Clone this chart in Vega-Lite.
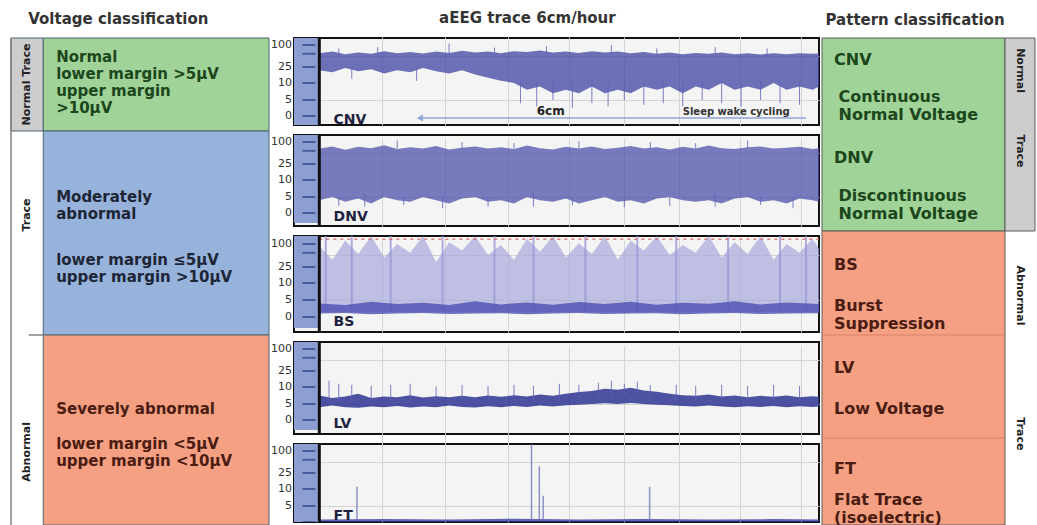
{
  "$schema": "https://vega.github.io/schema/vega-lite/v6.json",
  "background": "white",
  "padding": {"left": 10, "top": 10, "right": 0, "bottom": 0},
  "spacing": 0,
  "config": {
    "view": {"stroke": null},
    "concat": {"spacing": 0},
    "title": {"font": "DejaVu Sans", "fontSize": 15, "fontWeight": "bold", "color": "#333333", "offset": 10},
    "text": {"font": "DejaVu Sans"},
    "axis": {"labelFont": "DejaVu Sans"}
  },
  "datasets": {
    "traces": [
      {"p":"CNV","t":0,"lo":22,"hi":62},{"p":"CNV","t":2,"lo":20,"hi":70},{"p":"CNV","t":4,"lo":24,"hi":58},{"p":"CNV","t":6,"lo":21,"hi":66},{"p":"CNV","t":8,"lo":23,"hi":60},{"p":"CNV","t":10,"lo":19,"hi":72},{"p":"CNV","t":12,"lo":22,"hi":63},{"p":"CNV","t":14,"lo":20,"hi":68},{"p":"CNV","t":16,"lo":24,"hi":61},{"p":"CNV","t":18,"lo":21,"hi":70},{"p":"CNV","t":20,"lo":19,"hi":64},{"p":"CNV","t":22,"lo":22,"hi":74},{"p":"CNV","t":24,"lo":18,"hi":66},{"p":"CNV","t":26,"lo":15,"hi":70},{"p":"CNV","t":28,"lo":12,"hi":63},{"p":"CNV","t":30,"lo":10,"hi":72},{"p":"CNV","t":32,"lo":8,"hi":68},{"p":"CNV","t":34,"lo":9,"hi":75},{"p":"CNV","t":36,"lo":7,"hi":66},{"p":"CNV","t":38,"lo":8,"hi":70},{"p":"CNV","t":40,"lo":7,"hi":64},{"p":"CNV","t":42,"lo":9,"hi":72},{"p":"CNV","t":44,"lo":7,"hi":66},{"p":"CNV","t":46,"lo":8,"hi":70},{"p":"CNV","t":48,"lo":7,"hi":62},{"p":"CNV","t":50,"lo":9,"hi":68},{"p":"CNV","t":52,"lo":8,"hi":60},{"p":"CNV","t":54,"lo":9,"hi":66},{"p":"CNV","t":56,"lo":7,"hi":58},{"p":"CNV","t":58,"lo":9,"hi":64},{"p":"CNV","t":60,"lo":8,"hi":60},{"p":"CNV","t":62,"lo":10,"hi":66},{"p":"CNV","t":64,"lo":8,"hi":58},{"p":"CNV","t":66,"lo":9,"hi":62},{"p":"CNV","t":68,"lo":8,"hi":57},{"p":"CNV","t":70,"lo":10,"hi":63},{"p":"CNV","t":72,"lo":8,"hi":58},{"p":"CNV","t":74,"lo":9,"hi":62},{"p":"CNV","t":76,"lo":8,"hi":60},{"p":"CNV","t":77,"lo":9,"hi":61},
      {"p":"DNV","t":0,"lo":4,"hi":70},{"p":"DNV","t":2,"lo":5,"hi":80},{"p":"DNV","t":4,"lo":3.5,"hi":65},{"p":"DNV","t":6,"lo":4.5,"hi":78},{"p":"DNV","t":8,"lo":3,"hi":72},{"p":"DNV","t":10,"lo":5,"hi":85},{"p":"DNV","t":12,"lo":4,"hi":68},{"p":"DNV","t":14,"lo":3.5,"hi":76},{"p":"DNV","t":16,"lo":5,"hi":70},{"p":"DNV","t":18,"lo":4,"hi":82},{"p":"DNV","t":20,"lo":3,"hi":66},{"p":"DNV","t":22,"lo":4.5,"hi":74},{"p":"DNV","t":24,"lo":5,"hi":80},{"p":"DNV","t":26,"lo":3.5,"hi":70},{"p":"DNV","t":28,"lo":4,"hi":76},{"p":"DNV","t":30,"lo":3,"hi":68},{"p":"DNV","t":32,"lo":5,"hi":84},{"p":"DNV","t":34,"lo":4,"hi":72},{"p":"DNV","t":36,"lo":3.5,"hi":66},{"p":"DNV","t":38,"lo":4.5,"hi":78},{"p":"DNV","t":40,"lo":3,"hi":70},{"p":"DNV","t":42,"lo":4,"hi":80},{"p":"DNV","t":44,"lo":5,"hi":68},{"p":"DNV","t":46,"lo":3.5,"hi":74},{"p":"DNV","t":48,"lo":4,"hi":82},{"p":"DNV","t":50,"lo":3,"hi":70},{"p":"DNV","t":52,"lo":4.5,"hi":76},{"p":"DNV","t":54,"lo":5,"hi":66},{"p":"DNV","t":56,"lo":4,"hi":78},{"p":"DNV","t":58,"lo":3.5,"hi":70},{"p":"DNV","t":60,"lo":4,"hi":84},{"p":"DNV","t":62,"lo":3,"hi":72},{"p":"DNV","t":64,"lo":4.5,"hi":68},{"p":"DNV","t":66,"lo":5,"hi":76},{"p":"DNV","t":68,"lo":3.5,"hi":80},{"p":"DNV","t":70,"lo":4,"hi":70},{"p":"DNV","t":72,"lo":3,"hi":74},{"p":"DNV","t":74,"lo":4.5,"hi":78},{"p":"DNV","t":76,"lo":4,"hi":68},{"p":"DNV","t":77,"lo":3.5,"hi":72},
      {"p":"BS","t":0,"lo":1.5,"hi":90},{"p":"BS","t":2,"lo":1.5,"hi":40},{"p":"BS","t":4,"lo":1.5,"hi":120},{"p":"BS","t":6,"lo":1.5,"hi":55},{"p":"BS","t":8,"lo":1.5,"hi":146},{"p":"BS","t":10,"lo":1.5,"hi":45},{"p":"BS","t":12,"lo":1.5,"hi":100},{"p":"BS","t":14,"lo":1.5,"hi":60},{"p":"BS","t":16,"lo":1.5,"hi":146},{"p":"BS","t":18,"lo":1.5,"hi":35},{"p":"BS","t":20,"lo":1.5,"hi":110},{"p":"BS","t":22,"lo":1.5,"hi":70},{"p":"BS","t":24,"lo":1.5,"hi":146},{"p":"BS","t":26,"lo":1.5,"hi":50},{"p":"BS","t":28,"lo":1.5,"hi":95},{"p":"BS","t":30,"lo":1.5,"hi":40},{"p":"BS","t":32,"lo":1.5,"hi":130},{"p":"BS","t":34,"lo":1.5,"hi":65},{"p":"BS","t":36,"lo":1.5,"hi":146},{"p":"BS","t":38,"lo":1.5,"hi":45},{"p":"BS","t":40,"lo":1.5,"hi":105},{"p":"BS","t":42,"lo":1.5,"hi":55},{"p":"BS","t":44,"lo":1.5,"hi":146},{"p":"BS","t":46,"lo":1.5,"hi":40},{"p":"BS","t":48,"lo":1.5,"hi":120},{"p":"BS","t":50,"lo":1.5,"hi":70},{"p":"BS","t":52,"lo":1.5,"hi":146},{"p":"BS","t":54,"lo":1.5,"hi":50},{"p":"BS","t":56,"lo":1.5,"hi":95},{"p":"BS","t":58,"lo":1.5,"hi":60},{"p":"BS","t":60,"lo":1.5,"hi":146},{"p":"BS","t":62,"lo":1.5,"hi":45},{"p":"BS","t":64,"lo":1.5,"hi":110},{"p":"BS","t":66,"lo":1.5,"hi":55},{"p":"BS","t":68,"lo":1.5,"hi":146},{"p":"BS","t":70,"lo":1.5,"hi":40},{"p":"BS","t":72,"lo":1.5,"hi":100},{"p":"BS","t":74,"lo":1.5,"hi":60},{"p":"BS","t":76,"lo":1.5,"hi":130},{"p":"BS","t":77,"lo":1.5,"hi":80},
      {"p":"BSc","t":0,"lo":1,"hi":4},{"p":"BSc","t":4,"lo":1.2,"hi":3.5},{"p":"BSc","t":8,"lo":0.8,"hi":4.5},{"p":"BSc","t":12,"lo":1,"hi":3.8},{"p":"BSc","t":16,"lo":1.2,"hi":4.2},{"p":"BSc","t":20,"lo":0.9,"hi":3.5},{"p":"BSc","t":24,"lo":1,"hi":4.6},{"p":"BSc","t":28,"lo":1.1,"hi":3.7},{"p":"BSc","t":32,"lo":0.8,"hi":4.3},{"p":"BSc","t":36,"lo":1,"hi":3.6},{"p":"BSc","t":40,"lo":1.2,"hi":4.4},{"p":"BSc","t":44,"lo":0.9,"hi":3.8},{"p":"BSc","t":48,"lo":1,"hi":4.5},{"p":"BSc","t":52,"lo":1.1,"hi":3.6},{"p":"BSc","t":56,"lo":0.8,"hi":4.2},{"p":"BSc","t":60,"lo":1,"hi":3.9},{"p":"BSc","t":64,"lo":1.2,"hi":4.6},{"p":"BSc","t":68,"lo":0.9,"hi":3.7},{"p":"BSc","t":72,"lo":1,"hi":4.3},{"p":"BSc","t":77,"lo":1.1,"hi":3.8},
      {"p":"LV","t":0,"lo":4,"hi":7.5},{"p":"LV","t":2,"lo":4.5,"hi":6.8},{"p":"LV","t":4,"lo":4,"hi":7.2},{"p":"LV","t":6,"lo":3.8,"hi":8},{"p":"LV","t":8,"lo":4.2,"hi":6.8},{"p":"LV","t":10,"lo":4,"hi":7.2},{"p":"LV","t":12,"lo":4.4,"hi":7},{"p":"LV","t":14,"lo":3.9,"hi":7.6},{"p":"LV","t":16,"lo":4.2,"hi":6.9},{"p":"LV","t":18,"lo":4,"hi":7.3},{"p":"LV","t":20,"lo":4.5,"hi":7},{"p":"LV","t":22,"lo":4.1,"hi":7.4},{"p":"LV","t":24,"lo":3.9,"hi":7},{"p":"LV","t":26,"lo":4.3,"hi":7.5},{"p":"LV","t":28,"lo":4,"hi":7.1},{"p":"LV","t":30,"lo":4.4,"hi":7.6},{"p":"LV","t":32,"lo":4.1,"hi":7.2},{"p":"LV","t":34,"lo":4.5,"hi":7.8},{"p":"LV","t":36,"lo":4.2,"hi":7.4},{"p":"LV","t":38,"lo":4.6,"hi":8},{"p":"LV","t":40,"lo":4.8,"hi":8.5},{"p":"LV","t":42,"lo":5,"hi":8.8},{"p":"LV","t":44,"lo":5.2,"hi":9.5},{"p":"LV","t":46,"lo":5,"hi":9.2},{"p":"LV","t":48,"lo":5.3,"hi":9.8},{"p":"LV","t":50,"lo":5,"hi":9},{"p":"LV","t":52,"lo":4.8,"hi":8.6},{"p":"LV","t":54,"lo":4.6,"hi":8},{"p":"LV","t":56,"lo":4.4,"hi":7.6},{"p":"LV","t":58,"lo":4.2,"hi":7.4},{"p":"LV","t":60,"lo":4.5,"hi":7.8},{"p":"LV","t":62,"lo":4.2,"hi":7.2},{"p":"LV","t":64,"lo":4,"hi":7.5},{"p":"LV","t":66,"lo":4.3,"hi":7},{"p":"LV","t":68,"lo":4.1,"hi":7.4},{"p":"LV","t":70,"lo":4.4,"hi":7.1},{"p":"LV","t":72,"lo":4,"hi":7.5},{"p":"LV","t":74,"lo":4.3,"hi":7},{"p":"LV","t":76,"lo":4.1,"hi":7.3},{"p":"LV","t":77,"lo":4.2,"hi":7.1},
      {"p":"FT","t":0,"lo":0.1,"hi":0.8},{"p":"FT","t":10,"lo":0.1,"hi":0.9},{"p":"FT","t":20,"lo":0.1,"hi":0.8},{"p":"FT","t":30,"lo":0.1,"hi":1},{"p":"FT","t":40,"lo":0.1,"hi":0.8},{"p":"FT","t":50,"lo":0.1,"hi":0.9},{"p":"FT","t":60,"lo":0.1,"hi":0.8},{"p":"FT","t":70,"lo":0.1,"hi":0.9},{"p":"FT","t":77,"lo":0.1,"hi":0.8}
    ],
    "spikes": [
      {"p":"CNV","t":31,"lo":4,"hi":12},{"p":"CNV","t":33.5,"lo":3,"hi":10},{"p":"CNV","t":36,"lo":5,"hi":12},{"p":"CNV","t":39,"lo":2.5,"hi":10},{"p":"CNV","t":42,"lo":4,"hi":12},{"p":"CNV","t":44.5,"lo":3,"hi":10},{"p":"CNV","t":47,"lo":5,"hi":12},{"p":"CNV","t":50,"lo":3.5,"hi":10},{"p":"CNV","t":53,"lo":4,"hi":12},{"p":"CNV","t":56,"lo":3,"hi":10},{"p":"CNV","t":59,"lo":5,"hi":12},{"p":"CNV","t":62,"lo":4,"hi":12},{"p":"CNV","t":65,"lo":3,"hi":10},{"p":"CNV","t":68,"lo":5,"hi":12},{"p":"CNV","t":71,"lo":4,"hi":11},{"p":"CNV","t":74,"lo":3.5,"hi":10},{"p":"CNV","t":5,"lo":14,"hi":25},{"p":"CNV","t":15,"lo":12,"hi":25},{"p":"CNV","t":20,"lo":60,"hi":110},{"p":"CNV","t":45,"lo":60,"hi":100},{"p":"CNV","t":3,"lo":55,"hi":85},{"p":"CNV","t":9,"lo":55,"hi":90},{"p":"CNV","t":27,"lo":55,"hi":88},{"p":"CNV","t":35,"lo":60,"hi":95},{"p":"CNV","t":52,"lo":55,"hi":85},{"p":"CNV","t":61,"lo":55,"hi":90},{"p":"CNV","t":69,"lo":55,"hi":84},
      {"p":"DNV","t":7,"lo":2,"hi":6},{"p":"DNV","t":19,"lo":1.5,"hi":5},{"p":"DNV","t":33,"lo":2,"hi":6},{"p":"DNV","t":47,"lo":1.8,"hi":5},{"p":"DNV","t":61,"lo":2,"hi":6},{"p":"DNV","t":73,"lo":1.5,"hi":5},{"p":"DNV","t":12,"lo":70,"hi":110},{"p":"DNV","t":40,"lo":70,"hi":105},{"p":"DNV","t":66,"lo":70,"hi":110},{"p":"DNV","t":3,"lo":2.2,"hi":5},{"p":"DNV","t":13,"lo":2.5,"hi":5},{"p":"DNV","t":26,"lo":2,"hi":5},{"p":"DNV","t":39,"lo":2.4,"hi":5},{"p":"DNV","t":54,"lo":2.2,"hi":5},{"p":"DNV","t":68,"lo":2.5,"hi":5},{"p":"DNV","t":22,"lo":70,"hi":100},{"p":"DNV","t":30,"lo":70,"hi":95},{"p":"DNV","t":51,"lo":70,"hi":100},{"p":"DNV","t":58,"lo":70,"hi":95},
      {"p":"BS","t":1,"lo":2,"hi":146},{"p":"BS","t":5,"lo":2,"hi":146},{"p":"BS","t":11,"lo":2,"hi":146},{"p":"BS","t":19,"lo":2,"hi":146},{"p":"BS","t":27,"lo":2,"hi":146},{"p":"BS","t":33,"lo":2,"hi":146},{"p":"BS","t":41,"lo":2,"hi":146},{"p":"BS","t":49,"lo":2,"hi":146},{"p":"BS","t":55,"lo":2,"hi":146},{"p":"BS","t":63,"lo":2,"hi":146},{"p":"BS","t":71,"lo":2,"hi":146},{"p":"BS","t":75,"lo":2,"hi":146},
      {"p":"LV","t":1.5,"lo":6,"hi":16},{"p":"LV","t":3,"lo":6,"hi":13},{"p":"LV","t":5,"lo":6,"hi":12},{"p":"LV","t":8,"lo":6,"hi":11},{"p":"LV","t":11,"lo":6,"hi":12},{"p":"LV","t":14,"lo":6,"hi":13},{"p":"LV","t":18,"lo":6,"hi":10.5},{"p":"LV","t":22,"lo":6,"hi":12},{"p":"LV","t":26,"lo":6,"hi":11},{"p":"LV","t":30,"lo":6,"hi":12},{"p":"LV","t":33,"lo":6,"hi":11},{"p":"LV","t":37,"lo":6,"hi":13},{"p":"LV","t":40,"lo":7,"hi":12},{"p":"LV","t":43,"lo":7,"hi":14},{"p":"LV","t":45,"lo":7,"hi":16},{"p":"LV","t":47,"lo":7,"hi":13},{"p":"LV","t":49,"lo":7,"hi":15},{"p":"LV","t":51,"lo":7,"hi":12},{"p":"LV","t":55,"lo":6,"hi":12},{"p":"LV","t":58,"lo":6,"hi":11},{"p":"LV","t":62,"lo":6,"hi":12},{"p":"LV","t":66,"lo":6,"hi":11},{"p":"LV","t":70,"lo":6,"hi":12},{"p":"LV","t":74,"lo":6,"hi":11},
      {"p":"FT","t":5.8,"lo":0.5,"hi":12},{"p":"FT","t":32.7,"lo":0.5,"hi":146},{"p":"FT","t":33.9,"lo":0.5,"hi":40},{"p":"FT","t":34.5,"lo":0.5,"hi":8},{"p":"FT","t":50.9,"lo":0.5,"hi":12}
    ],
    "ticks": [{"v":100},{"v":60},{"v":25},{"v":10},{"v":5},{"v":0}],
    "ylabels": [{"v":100,"lab":"100"},{"v":25,"lab":"25"},{"v":10,"lab":"10"},{"v":5,"lab":"5"},{"v":0,"lab":"0"}],
    "notes": [
      {"p":"CNV","kind":"label","t":2.2,"v":-1.2,"txt":"CNV"},
      {"p":"DNV","kind":"label","t":2.2,"v":-1.2,"txt":"DNV"},
      {"p":"BS","kind":"label","t":2.2,"v":-1.6,"txt":"BS"},
      {"p":"LV","kind":"label","t":2.2,"v":-1.2,"txt":"LV"},
      {"p":"FT","kind":"label","t":2.2,"v":2,"txt":"FT"},
      {"p":"CNV","kind":"big","t":33.5,"v":1.6,"txt":"6cm"},
      {"p":"CNV","kind":"small","t":56,"v":1.2,"txt":"Sleep wake cycling"}
    ],
    "arrows": [{"p":"CNV","t0":15.5,"t1":75,"v":-0.7}],
    "leftBoxes": [
      {"cls":"strip","c0":0,"c1":1,"r0":0,"r1":1},
      {"cls":"normal","c0":1,"c1":8,"r0":0,"r1":1},
      {"cls":"moderate","c0":1,"c1":8,"r0":1,"r1":3},
      {"cls":"severe","c0":1,"c1":8,"r0":3,"r1":5}
    ],
    "leftLines": [{"c0":0,"c1":0,"r0":0,"r1":5},{"c0":0.55,"c1":1,"r0":3,"r1":3}],
    "leftText": [
      {"cls":"normal","c":1.4,"r":0.2,"txt":"Normal\nlower margin >5µV\nupper margin\n>10µV"},
      {"cls":"moderate","c":1.4,"r":1.66,"txt":"Moderately\nabnormal"},
      {"cls":"moderate","c":1.4,"r":2.28,"txt":"lower margin ≤5µV\nupper margin >10µV"},
      {"cls":"severe","c":1.4,"r":3.72,"txt":"Severely abnormal"},
      {"cls":"severe","c":1.4,"r":4.07,"txt":"lower margin <5µV\nupper margin <10µV"}
    ],
    "leftStrip": [
      {"c":0.5,"r":0.5,"txt":"Normal Trace"},
      {"c":0.5,"r":1.84,"txt":"Trace"},
      {"c":0.5,"r":4.16,"txt":"Abnormal"}
    ],
    "rightBoxes": [
      {"cls":"normal","c0":0,"c1":6.1,"r0":0,"r1":2},
      {"cls":"severe","c0":0,"c1":6.1,"r0":2,"r1":5},
      {"cls":"strip","c0":6.1,"c1":7.1,"r0":0,"r1":2}
    ],
    "rightLines": [{"c0":0,"c1":6.1,"r0":3,"r1":3},{"c0":0,"c1":6.1,"r0":4,"r1":4}],
    "rightText": [
      {"cls":"normal","c":0.4,"r":0.24,"txt":"CNV"},
      {"cls":"normal","c":0.55,"r":0.63,"txt":"Continuous\nNormal Voltage"},
      {"cls":"normal","c":0.4,"r":1.27,"txt":"DNV"},
      {"cls":"normal","c":0.55,"r":1.65,"txt":"Discontinuous\nNormal Voltage"},
      {"cls":"severe","c":0.4,"r":2.33,"txt":"BS"},
      {"cls":"severe","c":0.4,"r":2.72,"txt":"Burst\nSuppression"},
      {"cls":"severe","c":0.4,"r":3.32,"txt":"LV"},
      {"cls":"severe","c":0.4,"r":3.72,"txt":"Low Voltage"},
      {"cls":"severe","c":0.4,"r":4.36,"txt":"FT"},
      {"cls":"severe","c":0.4,"r":4.71,"txt":"Flat Trace\n (isoelectric)"}
    ],
    "rightStrip": [
      {"c":6.6,"r":0.35,"txt":"Normal"},
      {"c":6.6,"r":1.2,"txt":"Trace"},
      {"c":6.6,"r":2.62,"txt":"Abnormal"},
      {"c":6.6,"r":3.96,"txt":"Trace"}
    ]
  },
  "hconcat": [
    {
      "title": {"text": "Voltage classification", "anchor": "start", "dx": 18},
      "width": 258,
      "height": 485,
      "layer": [
        {
          "data": {"name": "leftBoxes"},
          "mark": {"type": "rect", "stroke": "#4f6470", "strokeWidth": 1},
          "encoding": {
            "x": {"field": "c0", "type": "quantitative", "scale": {"domain": [0, 8], "nice": false, "zero": false}, "axis": null},
            "x2": {"field": "c1"},
            "y": {"field": "r0", "type": "quantitative", "scale": {"domain": [0, 1, 2, 3, 4, 5], "range": [0, 93, 193, 297, 400, 487], "nice": false, "zero": false}, "axis": null},
            "y2": {"field": "r1"},
            "fill": {"field": "cls", "type": "nominal", "scale": {"domain": ["strip", "normal", "moderate", "severe"], "range": ["#cdcdcd", "#a0d398", "#97b3dc", "#f5a083"]}, "legend": null}
          }
        },
        {
          "data": {"name": "leftLines"},
          "mark": {"type": "rule", "color": "#808080", "strokeWidth": 1.5},
          "encoding": {
            "x": {"field": "c0", "type": "quantitative"},
            "x2": {"field": "c1"},
            "y": {"field": "r0", "type": "quantitative"},
            "y2": {"field": "r1"}
          }
        },
        {
          "data": {"name": "leftText"},
          "mark": {"type": "text", "align": "left", "baseline": "middle", "fontWeight": "bold", "fontSize": 15, "lineBreak": "\n", "lineHeight": 17},
          "encoding": {
            "x": {"field": "c", "type": "quantitative"},
            "y": {"field": "r", "type": "quantitative"},
            "text": {"field": "txt"},
            "color": {"field": "cls", "type": "nominal", "scale": {"domain": ["normal", "moderate", "severe", "strip"], "range": ["#1c461c", "#1e2636", "#4a1c12", "#222222"]}, "legend": null}
          }
        },
        {
          "data": {"name": "leftStrip"},
          "mark": {"type": "text", "angle": 270, "align": "center", "baseline": "middle", "fontWeight": "bold", "fontSize": 11, "color": "#222222"},
          "encoding": {
            "x": {"field": "c", "type": "quantitative"},
            "y": {"field": "r", "type": "quantitative"},
            "text": {"field": "txt"}
          }
        }
      ]
    },
    {
      "title": {"text": "aEEG trace 6cm/hour", "anchor": "middle", "dx": -18},
      "spacing": 4,
      "vconcat": [
        {
          "width": 525, "height": 87,
          "view": {"stroke": "#111111", "strokeWidth": 2, "fill": "#f4f4f4"},
          "layer": [
            {
              "data": {"name": "traces"}, "transform": [{"filter": "datum.p === 'CNV'"}],
              "mark": {"type": "area", "color": "#3f44a3", "opacity": 0.75, "clip": true},
              "encoding": {
                "x": {"field": "t", "type": "quantitative", "scale": {"domain": [-3.9, 77], "nice": false, "zero": false}, "axis": {"values": [9.6, 19.4, 29, 38.4, 47, 55.5, 64.9, 74.2], "grid": true, "gridColor": "#d4d4d4", "labels": false, "ticks": false, "domain": false, "title": null}},
                "y": {"field": "lo", "type": "quantitative", "scale": {"domain": [-3.4, 0, 5, 10, 25, 50, 100, 146], "range": [88, 78, 62, 45, 29, 18, 7, 0], "nice": false, "zero": false}, "axis": {"values": [5, 10, 25, 50], "labels": false, "grid": true, "gridColor": "#d4d4d4", "domain": false, "ticks": false, "title": null}},
                "y2": {"field": "hi"}
              }
            },
            {
              "data": {"name": "spikes"}, "transform": [{"filter": "datum.p === 'CNV'"}],
              "mark": {"type": "rule", "color": "#5b5fb5", "strokeWidth": 1, "opacity": 0.8, "clip": true},
              "encoding": {"x": {"field": "t", "type": "quantitative"}, "y": {"field": "lo", "type": "quantitative"}, "y2": {"field": "hi"}}
            },
            {
              "data": {"values": [{}]},
              "mark": {"type": "rect", "color": "#8d9fd2", "clip": true},
              "encoding": {"x": {"datum": -3.9}, "x2": {"datum": 0}, "y": {"datum": -3.4}, "y2": {"datum": 146}}
            },
            {
              "data": {"name": "ticks"},
              "mark": {"type": "rule", "color": "#2d3f8a", "strokeWidth": 2, "opacity": 0.7},
              "encoding": {"x": {"datum": -2.6}, "x2": {"datum": -0.6}, "y": {"field": "v", "type": "quantitative"}}
            },
            {
              "data": {"name": "ylabels"},
              "mark": {"type": "text", "align": "right", "baseline": "middle", "dx": -2, "fontSize": 11, "color": "#333333"},
              "encoding": {"x": {"datum": -3.9}, "y": {"field": "v", "type": "quantitative"}, "text": {"field": "lab"}}
            },
            {
              "data": {"values": [{}]},
              "mark": {"type": "rule", "color": "#111111", "strokeWidth": 3},
              "encoding": {"x": {"datum": 0}}
            },
            {
              "data": {"name": "arrows"}, "transform": [{"filter": "datum.p === 'CNV'"}],
              "mark": {"type": "rule", "color": "#8fa6d8", "strokeWidth": 1.5},
              "encoding": {"x": {"field": "t0", "type": "quantitative"}, "x2": {"field": "t1"}, "y": {"field": "v", "type": "quantitative"}}
            },
            {
              "data": {"name": "arrows"}, "transform": [{"filter": "datum.p === 'CNV'"}],
              "mark": {"type": "point", "shape": "triangle-left", "filled": true, "color": "#8fa6d8", "size": 50, "opacity": 1},
              "encoding": {"x": {"field": "t0", "type": "quantitative"}, "y": {"field": "v", "type": "quantitative"}}
            },
            {
              "data": {"name": "notes"}, "transform": [{"filter": "datum.p === 'CNV' && datum.kind === 'label'"}],
              "mark": {"type": "text", "align": "left", "baseline": "middle", "fontWeight": "bold", "fontSize": 14, "color": "#1e2240"},
              "encoding": {"x": {"field": "t", "type": "quantitative"}, "y": {"field": "v", "type": "quantitative"}, "text": {"field": "txt"}}
            },
            {
              "data": {"name": "notes"}, "transform": [{"filter": "datum.p === 'CNV' && datum.kind === 'big'"}],
              "mark": {"type": "text", "align": "left", "baseline": "middle", "fontWeight": "bold", "fontSize": 12, "color": "#222222"},
              "encoding": {"x": {"field": "t", "type": "quantitative"}, "y": {"field": "v", "type": "quantitative"}, "text": {"field": "txt"}}
            },
            {
              "data": {"name": "notes"}, "transform": [{"filter": "datum.p === 'CNV' && datum.kind === 'small'"}],
              "mark": {"type": "text", "align": "left", "baseline": "middle", "fontWeight": "bold", "fontSize": 10, "color": "#333333"},
              "encoding": {"x": {"field": "t", "type": "quantitative"}, "y": {"field": "v", "type": "quantitative"}, "text": {"field": "txt"}}
            }
          ]
        },
        {
          "width": 525, "height": 91,
          "view": {"stroke": "#111111", "strokeWidth": 2, "fill": "#f4f4f4"},
          "layer": [
            {
              "data": {"name": "traces"}, "transform": [{"filter": "datum.p === 'DNV'"}],
              "mark": {"type": "area", "color": "#464ba8", "opacity": 0.72, "clip": true},
              "encoding": {
                "x": {"field": "t", "type": "quantitative", "scale": {"domain": [-3.9, 77], "nice": false, "zero": false}, "axis": {"values": [9.6, 19.4, 29, 38.4, 47, 55.5, 64.9, 74.2], "grid": true, "gridColor": "#d4d4d4", "labels": false, "ticks": false, "domain": false, "title": null}},
                "y": {"field": "lo", "type": "quantitative", "scale": {"domain": [-3.4, 0, 5, 10, 25, 50, 100, 146], "range": [88, 78, 62, 45, 29, 18, 7, 0], "nice": false, "zero": false}, "axis": {"values": [5, 10, 25, 50], "labels": false, "grid": true, "gridColor": "#d4d4d4", "domain": false, "ticks": false, "title": null}},
                "y2": {"field": "hi"}
              }
            },
            {
              "data": {"name": "spikes"}, "transform": [{"filter": "datum.p === 'DNV'"}],
              "mark": {"type": "rule", "color": "#5b5fb5", "strokeWidth": 1, "opacity": 0.8, "clip": true},
              "encoding": {"x": {"field": "t", "type": "quantitative"}, "y": {"field": "lo", "type": "quantitative"}, "y2": {"field": "hi"}}
            },
            {
              "data": {"values": [{}]},
              "mark": {"type": "rect", "color": "#8d9fd2", "clip": true},
              "encoding": {"x": {"datum": -3.9}, "x2": {"datum": 0}, "y": {"datum": -3.4}, "y2": {"datum": 146}}
            },
            {
              "data": {"name": "ticks"},
              "mark": {"type": "rule", "color": "#2d3f8a", "strokeWidth": 2, "opacity": 0.7},
              "encoding": {"x": {"datum": -2.6}, "x2": {"datum": -0.6}, "y": {"field": "v", "type": "quantitative"}}
            },
            {
              "data": {"name": "ylabels"},
              "mark": {"type": "text", "align": "right", "baseline": "middle", "dx": -2, "fontSize": 11, "color": "#333333"},
              "encoding": {"x": {"datum": -3.9}, "y": {"field": "v", "type": "quantitative"}, "text": {"field": "lab"}}
            },
            {
              "data": {"values": [{}]},
              "mark": {"type": "rule", "color": "#111111", "strokeWidth": 3},
              "encoding": {"x": {"datum": 0}}
            },
            {
              "data": {"name": "notes"}, "transform": [{"filter": "datum.p === 'DNV' && datum.kind === 'label'"}],
              "mark": {"type": "text", "align": "left", "baseline": "middle", "fontWeight": "bold", "fontSize": 14, "color": "#1e2240"},
              "encoding": {"x": {"field": "t", "type": "quantitative"}, "y": {"field": "v", "type": "quantitative"}, "text": {"field": "txt"}}
            }
          ]
        },
        {
          "width": 525, "height": 96,
          "view": {"stroke": "#111111", "strokeWidth": 2, "fill": "#f4f4f4"},
          "layer": [
            {
              "data": {"name": "traces"}, "transform": [{"filter": "datum.p === 'BS'"}],
              "mark": {"type": "area", "color": "#a8a6dc", "opacity": 0.7, "clip": true},
              "encoding": {
                "x": {"field": "t", "type": "quantitative", "scale": {"domain": [-3.9, 77], "nice": false, "zero": false}, "axis": {"values": [9.6, 19.4, 29, 38.4, 47, 55.5, 64.9, 74.2], "grid": true, "gridColor": "#d4d4d4", "labels": false, "ticks": false, "domain": false, "title": null}},
                "y": {"field": "lo", "type": "quantitative", "scale": {"domain": [-3.4, 0, 5, 10, 25, 50, 100, 146], "range": [92, 81, 64, 47, 31, 19, 8, 0], "nice": false, "zero": false}, "axis": {"values": [5, 10, 25, 50], "labels": false, "grid": true, "gridColor": "#d4d4d4", "domain": false, "ticks": false, "title": null}},
                "y2": {"field": "hi"}
              }
            },
            {
              "data": {"name": "spikes"}, "transform": [{"filter": "datum.p === 'BS'"}],
              "mark": {"type": "rule", "color": "#9a98d6", "strokeWidth": 2, "opacity": 0.8, "clip": true},
              "encoding": {"x": {"field": "t", "type": "quantitative"}, "y": {"field": "lo", "type": "quantitative"}, "y2": {"field": "hi"}}
            },
            {
              "data": {"name": "traces"}, "transform": [{"filter": "datum.p === 'BSc'"}],
              "mark": {"type": "area", "color": "#4b4fb0", "opacity": 0.8, "clip": true},
              "encoding": {"x": {"field": "t", "type": "quantitative"}, "y": {"field": "lo", "type": "quantitative"}, "y2": {"field": "hi"}}
            },
            {
              "data": {"values": [{}]},
              "mark": {"type": "rule", "color": "#e06060", "strokeWidth": 1.5, "strokeDash": [3, 4], "opacity": 0.8},
              "encoding": {"x": {"datum": 0}, "x2": {"datum": 77}, "y": {"datum": 128}}
            },
            {
              "data": {"values": [{}]},
              "mark": {"type": "rect", "color": "#8d9fd2", "clip": true},
              "encoding": {"x": {"datum": -3.9}, "x2": {"datum": 0}, "y": {"datum": -3.4}, "y2": {"datum": 146}}
            },
            {
              "data": {"name": "ticks"},
              "mark": {"type": "rule", "color": "#2d3f8a", "strokeWidth": 2, "opacity": 0.7},
              "encoding": {"x": {"datum": -2.6}, "x2": {"datum": -0.6}, "y": {"field": "v", "type": "quantitative"}}
            },
            {
              "data": {"name": "ylabels"},
              "mark": {"type": "text", "align": "right", "baseline": "middle", "dx": -2, "fontSize": 11, "color": "#333333"},
              "encoding": {"x": {"datum": -3.9}, "y": {"field": "v", "type": "quantitative"}, "text": {"field": "lab"}}
            },
            {
              "data": {"values": [{}]},
              "mark": {"type": "rule", "color": "#111111", "strokeWidth": 3},
              "encoding": {"x": {"datum": 0}}
            },
            {
              "data": {"name": "notes"}, "transform": [{"filter": "datum.p === 'BS' && datum.kind === 'label'"}],
              "mark": {"type": "text", "align": "left", "baseline": "middle", "fontWeight": "bold", "fontSize": 14, "color": "#1e2240"},
              "encoding": {"x": {"field": "t", "type": "quantitative"}, "y": {"field": "v", "type": "quantitative"}, "text": {"field": "txt"}}
            }
          ]
        },
        {
          "width": 525, "height": 92,
          "view": {"stroke": "#111111", "strokeWidth": 2, "fill": "#f4f4f4"},
          "layer": [
            {
              "data": {"name": "traces"}, "transform": [{"filter": "datum.p === 'LV'"}],
              "mark": {"type": "area", "color": "#2e3592", "opacity": 0.85, "clip": true},
              "encoding": {
                "x": {"field": "t", "type": "quantitative", "scale": {"domain": [-3.9, 77], "nice": false, "zero": false}, "axis": {"values": [9.6, 19.4, 29, 38.4, 47, 55.5, 64.9, 74.2], "grid": true, "gridColor": "#d4d4d4", "labels": false, "ticks": false, "domain": false, "title": null}},
                "y": {"field": "lo", "type": "quantitative", "scale": {"domain": [-3.4, 0, 5, 10, 25, 50, 100, 146], "range": [88, 78, 62, 45, 29, 18, 7, 0], "nice": false, "zero": false}, "axis": {"values": [5, 10, 25, 50], "labels": false, "grid": true, "gridColor": "#d4d4d4", "domain": false, "ticks": false, "title": null}},
                "y2": {"field": "hi"}
              }
            },
            {
              "data": {"name": "spikes"}, "transform": [{"filter": "datum.p === 'LV'"}],
              "mark": {"type": "rule", "color": "#5b5fb5", "strokeWidth": 1, "opacity": 0.8, "clip": true},
              "encoding": {"x": {"field": "t", "type": "quantitative"}, "y": {"field": "lo", "type": "quantitative"}, "y2": {"field": "hi"}}
            },
            {
              "data": {"values": [{}]},
              "mark": {"type": "rect", "color": "#8d9fd2", "clip": true},
              "encoding": {"x": {"datum": -3.9}, "x2": {"datum": 0}, "y": {"datum": -3.4}, "y2": {"datum": 146}}
            },
            {
              "data": {"name": "ticks"},
              "mark": {"type": "rule", "color": "#2d3f8a", "strokeWidth": 2, "opacity": 0.7},
              "encoding": {"x": {"datum": -2.6}, "x2": {"datum": -0.6}, "y": {"field": "v", "type": "quantitative"}}
            },
            {
              "data": {"name": "ylabels"},
              "mark": {"type": "text", "align": "right", "baseline": "middle", "dx": -2, "fontSize": 11, "color": "#333333"},
              "encoding": {"x": {"datum": -3.9}, "y": {"field": "v", "type": "quantitative"}, "text": {"field": "lab"}}
            },
            {
              "data": {"values": [{}]},
              "mark": {"type": "rule", "color": "#111111", "strokeWidth": 3},
              "encoding": {"x": {"datum": 0}}
            },
            {
              "data": {"name": "notes"}, "transform": [{"filter": "datum.p === 'LV' && datum.kind === 'label'"}],
              "mark": {"type": "text", "align": "left", "baseline": "middle", "fontWeight": "bold", "fontSize": 14, "color": "#1e2240"},
              "encoding": {"x": {"field": "t", "type": "quantitative"}, "y": {"field": "v", "type": "quantitative"}, "text": {"field": "txt"}}
            }
          ]
        },
        {
          "width": 525, "height": 78,
          "view": {"stroke": "#111111", "strokeWidth": 2, "fill": "#f4f4f4"},
          "layer": [
            {
              "data": {"name": "traces"}, "transform": [{"filter": "datum.p === 'FT'"}],
              "mark": {"type": "area", "color": "#3a3fa0", "opacity": 0.8, "clip": true},
              "encoding": {
                "x": {"field": "t", "type": "quantitative", "scale": {"domain": [-3.9, 77], "nice": false, "zero": false}, "axis": {"values": [9.6, 19.4, 29, 38.4, 47, 55.5, 64.9, 74.2], "grid": true, "gridColor": "#d4d4d4", "labels": false, "ticks": false, "domain": false, "title": null}},
                "y": {"field": "lo", "type": "quantitative", "scale": {"domain": [-3.4, 0, 5, 10, 25, 50, 100, 146], "range": [88, 78, 62, 45, 29, 18, 7, 0], "nice": false, "zero": false}, "axis": {"values": [5, 10, 25, 50], "labels": false, "grid": true, "gridColor": "#d4d4d4", "domain": false, "ticks": false, "title": null}},
                "y2": {"field": "hi"}
              }
            },
            {
              "data": {"name": "spikes"}, "transform": [{"filter": "datum.p === 'FT'"}],
              "mark": {"type": "rule", "color": "#7078bb", "strokeWidth": 1.5, "opacity": 0.8, "clip": true},
              "encoding": {"x": {"field": "t", "type": "quantitative"}, "y": {"field": "lo", "type": "quantitative"}, "y2": {"field": "hi"}}
            },
            {
              "data": {"values": [{}]},
              "mark": {"type": "rect", "color": "#8d9fd2", "clip": true},
              "encoding": {"x": {"datum": -3.9}, "x2": {"datum": 0}, "y": {"datum": -3.4}, "y2": {"datum": 146}}
            },
            {
              "data": {"name": "ticks"},
              "mark": {"type": "rule", "color": "#2d3f8a", "strokeWidth": 2, "opacity": 0.7, "clip": true},
              "encoding": {"x": {"datum": -2.6}, "x2": {"datum": -0.6}, "y": {"field": "v", "type": "quantitative"}}
            },
            {
              "data": {"name": "ylabels"}, "transform": [{"filter": "datum.v > 0"}],
              "mark": {"type": "text", "align": "right", "baseline": "middle", "dx": -2, "fontSize": 11, "color": "#333333"},
              "encoding": {"x": {"datum": -3.9}, "y": {"field": "v", "type": "quantitative"}, "text": {"field": "lab"}}
            },
            {
              "data": {"values": [{}]},
              "mark": {"type": "rule", "color": "#111111", "strokeWidth": 3},
              "encoding": {"x": {"datum": 0}}
            },
            {
              "data": {"name": "notes"}, "transform": [{"filter": "datum.p === 'FT' && datum.kind === 'label'"}],
              "mark": {"type": "text", "align": "left", "baseline": "middle", "fontWeight": "bold", "fontSize": 14, "color": "#1e2240"},
              "encoding": {"x": {"field": "t", "type": "quantitative"}, "y": {"field": "v", "type": "quantitative"}, "text": {"field": "txt"}}
            }
          ]
        }
      ]
    },
    {
      "title": {"text": "Pattern classification", "anchor": "start", "dx": 4},
      "width": 213,
      "height": 485,
      "layer": [
        {
          "data": {"name": "rightBoxes"},
          "mark": {"type": "rect", "stroke": "#5a5a5a", "strokeWidth": 1},
          "encoding": {
            "x": {"field": "c0", "type": "quantitative", "scale": {"domain": [0, 7.1], "nice": false, "zero": false}, "axis": null},
            "x2": {"field": "c1"},
            "y": {"field": "r0", "type": "quantitative", "scale": {"domain": [0, 1, 2, 3, 4, 5], "range": [0, 93, 193, 297, 400, 487], "nice": false, "zero": false}, "axis": null},
            "y2": {"field": "r1"},
            "fill": {"field": "cls", "type": "nominal", "scale": {"domain": ["strip", "normal", "moderate", "severe"], "range": ["#cdcdcd", "#a0d398", "#97b3dc", "#f5a083"]}, "legend": null}
          }
        },
        {
          "data": {"name": "rightLines"},
          "mark": {"type": "rule", "color": "#d9826c", "strokeWidth": 1},
          "encoding": {
            "x": {"field": "c0", "type": "quantitative"},
            "x2": {"field": "c1"},
            "y": {"field": "r0", "type": "quantitative"},
            "y2": {"field": "r1"}
          }
        },
        {
          "data": {"name": "rightText"},
          "mark": {"type": "text", "align": "left", "baseline": "middle", "fontWeight": "bold", "fontSize": 16, "lineBreak": "\n", "lineHeight": 18},
          "encoding": {
            "x": {"field": "c", "type": "quantitative"},
            "y": {"field": "r", "type": "quantitative"},
            "text": {"field": "txt"},
            "color": {"field": "cls", "type": "nominal", "scale": {"domain": ["normal", "moderate", "severe", "strip"], "range": ["#1c461c", "#1e2636", "#4a1c12", "#222222"]}, "legend": null}
          }
        },
        {
          "data": {"name": "rightStrip"},
          "mark": {"type": "text", "angle": 90, "align": "center", "baseline": "middle", "fontWeight": "bold", "fontSize": 11, "color": "#222222"},
          "encoding": {
            "x": {"field": "c", "type": "quantitative"},
            "y": {"field": "r", "type": "quantitative"},
            "text": {"field": "txt"}
          }
        }
      ]
    }
  ]
}
